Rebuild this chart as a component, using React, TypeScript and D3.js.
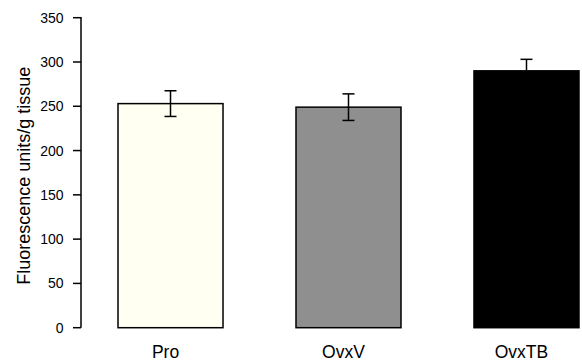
import React from "react";
import * as d3 from "d3";

const groups = ["Pro", "OvxV", "OvxTB"];
const means = [253, 249, 290];
const errors = [14.5, 15, 13];
const fills = ["#fffff2", "#8f8f8f", "#000000"];
const yTicks = [0, 50, 100, 150, 200, 250, 300, 350];

const W = 582, H = 363;

export default function App() {
  const y = d3.scaleLinear().domain([0, 350]).range([327.7, 17.7]);
  const x = d3.scaleBand().domain(groups).range([118, 579]).paddingInner(0.41).paddingOuter(0);
  const axisX = 81;
  const font = "Arial, 'Liberation Sans', Helvetica, sans-serif";

  return (
    <svg width={W} height={H} style={{ position: "absolute", left: 0, top: 0 }} fontFamily={font}>
      <rect width={W} height={H} fill="#fff" />
      {/* y axis */}
      <line x1={axisX} x2={axisX} y1={y(350) - 0.75} y2={y(0)} stroke="#000" strokeWidth={1.5} />
      {yTicks.map(t => (
        <g key={t}>
          <line x1={axisX - 8} x2={axisX} y1={y(t)} y2={y(t)} stroke="#000" strokeWidth={1.5} />
          <text x={63.5} y={y(t)} dy="0.36em" textAnchor="end" fontSize={14}>{t}</text>
        </g>
      ))}
      <text transform={`translate(30,${(y(0) + y(350)) / 2 + 3}) rotate(-90)`} textAnchor="middle" fontSize={18}>
        Fluorescence units/g tissue
      </text>
      {/* bars with error bars */}
      {groups.map((g, i) => {
        const bx = x(g)!;
        const cx = bx + x.bandwidth() / 2;
        const hi = y(means[i] + errors[i]);
        const lo = y(means[i] - errors[i]);
        return (
          <g key={g}>
            <line x1={cx} x2={cx} y1={hi} y2={y(means[i])} stroke="#000" strokeWidth={1.5} />
            <line x1={cx - 6} x2={cx + 6} y1={hi} y2={hi} stroke="#000" strokeWidth={1.5} />
            <rect x={bx} y={y(means[i])} width={x.bandwidth()} height={y(0) - y(means[i])} fill={fills[i]} stroke="#000" strokeWidth={1.5} />
            <line x1={cx} x2={cx} y1={y(means[i])} y2={lo} stroke="#000" strokeWidth={1.5} />
            <line x1={cx - 6} x2={cx + 6} y1={lo} y2={lo} stroke="#000" strokeWidth={1.5} />
            <text x={cx - 5} y={358} textAnchor="middle" fontSize={17.5}>{g}</text>
          </g>
        );
      })}
    </svg>
  );
}
